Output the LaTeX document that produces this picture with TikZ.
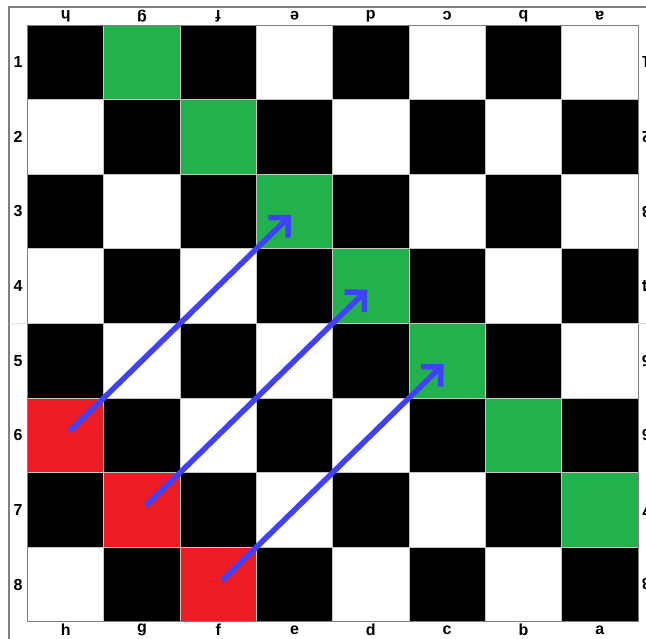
\documentclass[tikz,border=0pt]{standalone}
\usepackage{fontspec}
\setmainfont{Liberation Sans}
\usetikzlibrary{arrows.meta, positioning, calc}
\definecolor{sqgreen}{RGB}{34,177,76}
\definecolor{sqred}{RGB}{237,28,36}
\definecolor{mvblue}{RGB}{64,64,255}

\begin{document}
\begin{tikzpicture}[x=1pt, y=-1pt,
    square/.style={draw=gray!45, line width=0.8pt, minimum width=76.3pt,
        minimum height=74.6pt, inner sep=0pt, outer sep=0pt},
    coordlabel/.style={font=\bfseries\fontsize{16}{16}\selectfont, inner sep=0pt},
    move/.style={draw=mvblue, line width=5.5pt, shorten <=6pt, shorten >=5pt,
        -{Straight Barb[length=14pt, width=28pt]}}]
    \useasboundingbox (0,0) rectangle (646,639);
    \clip (0,0) rectangle (646,639);
    \fill[white] (0,0) rectangle (646,639);

    % outer frame
    \draw[gray, line width=1.2pt] (9,650) -- (9,7) -- (660,7);

    % board
    \foreach \r in {1,...,8} {
        \foreach \c [count=\i from 0] in {h,g,f,e,d,c,b,a} {
            \pgfmathtruncatemacro\kind{\i==\r ? 2 : (\r-\i==6 ? 3 : mod(\r+\i,2))}
            \ifcase\kind \def\sqfill{white}\or \def\sqfill{black}\or
                \def\sqfill{sqgreen}\or \def\sqfill{sqred}\fi
            \node[square, fill=\sqfill] (\c\r) at ({27.5+76.3*(\i+0.5)}, {25+74.6*(\r-0.5)}) {};
        }
        \node[coordlabel] (left\r) at (18, {25+74.6*(\r-0.5)}) {\r};
        \node[coordlabel, rotate=180] (right\r) at (646.5, {25+74.6*(\r-0.5)}) {\r};
    }
    \foreach \c [count=\i from 0] in {h,g,f,e,d,c,b,a} {
        \node[coordlabel, rotate=180] (top\c) at ({27.5+76.3*(\i+0.5)}, 16) {\c};
        \node[coordlabel] (bottom\c) at ({27.5+76.3*(\i+0.5)}, 630) {\c};
    }
    \draw[gray, line width=0.8pt] (h1.north west) rectangle (a8.south east);
    \draw[gray!30, line width=0.8pt] (9,324) -- (h4.south west);
    \draw[gray!30, line width=0.8pt] (a4.south east) -- (660,324);

    % moves
    \draw[move] (h6.center) -- (e3.center);
    \draw[move] (g7.center) -- (d4.center);
    \draw[move] (f8.center) -- (c5.center);
\end{tikzpicture}
\end{document}
